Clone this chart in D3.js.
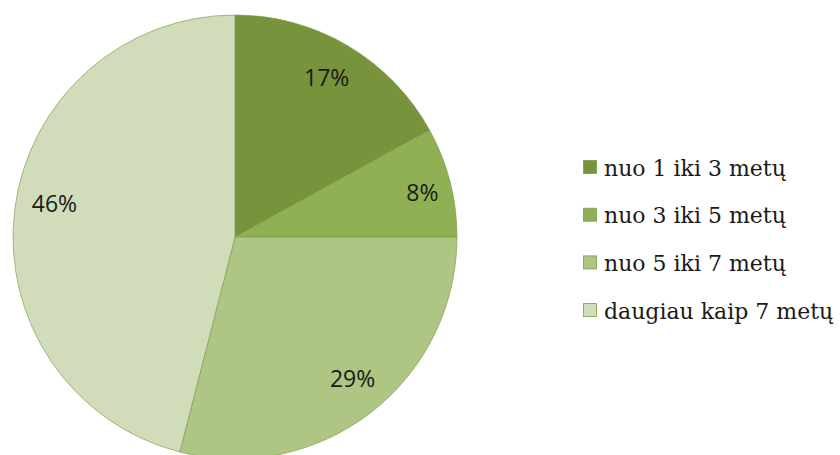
<!DOCTYPE html>
<html><head><meta charset="utf-8">
<script src="https://cdnjs.cloudflare.com/ajax/libs/d3/7.8.5/d3.min.js"></script>
<style>body{margin:0;background:#fff}svg{display:block}</style>
</head><body>
<svg id="c" width="840" height="455"></svg>
<script>
const categories = ["nuo 1 iki 3 metų", "nuo 3 iki 5 metų", "nuo 5 iki 7 metų", "daugiau kaip 7 metų"];
const values = [17, 8, 29, 46];
const labels = ["17%", "8%", "29%", "46%"];
const colors = ["#77933C", "#8FB153", "#AEC583", "#D0DCBA"];

// label placement nudges (layout only)
const labelNudge = [[-1, -3], [11, 1], [6, -2], [0, -10]];

const svg = d3.select("#c");
const cx = 235, cy = 237, r = 222;
const pie = d3.pie().sort(null).value(d => d)(values);
const arc = d3.arc().innerRadius(0).outerRadius(r);
const g = svg.append("g").attr("transform", `translate(${cx},${cy})`);
g.selectAll("path").data(pie).join("path")
  .attr("d", arc)
  .attr("fill", (d, i) => colors[i])
  .attr("stroke", "#7E9A48")
  .attr("stroke-width", 0.8)
  .attr("stroke-opacity", 0.8);

const labelArc = d3.arc().innerRadius(r * 0.82).outerRadius(r * 0.82);
g.selectAll("text").data(pie).join("text")
  .attr("transform", (d, i) => {
    const [x, y] = labelArc.centroid(d);
    return `translate(${x + labelNudge[i][0]},${y + labelNudge[i][1]})`;
  })
  .attr("text-anchor", "middle")
  .attr("dy", "0.36em")
  .style("font-family", "'Open Sans', sans-serif")
  .attr("font-size", 23)
  .attr("fill", "#1a1a1a")
  .text((d, i) => labels[i]);

const leg = svg.append("g").attr("transform", "translate(583,160)");
const items = leg.selectAll("g").data(categories).join("g")
  .attr("transform", (d, i) => `translate(0,${i * 47.7})`);
items.append("rect").attr("x", 0.5).attr("y", 0.5).attr("width", 13).attr("height", 13)
  .attr("fill", (d, i) => colors[i]).attr("stroke", "#7E9A48").attr("stroke-width", 0.8);
items.append("text").attr("x", 21).attr("y", 15.5)
  .style("font-family", "'DejaVu Serif', serif")
  .attr("font-size", 22)
  .attr("fill", "#1a1a1a")
  .text(d => d);
</script>
</body></html>
